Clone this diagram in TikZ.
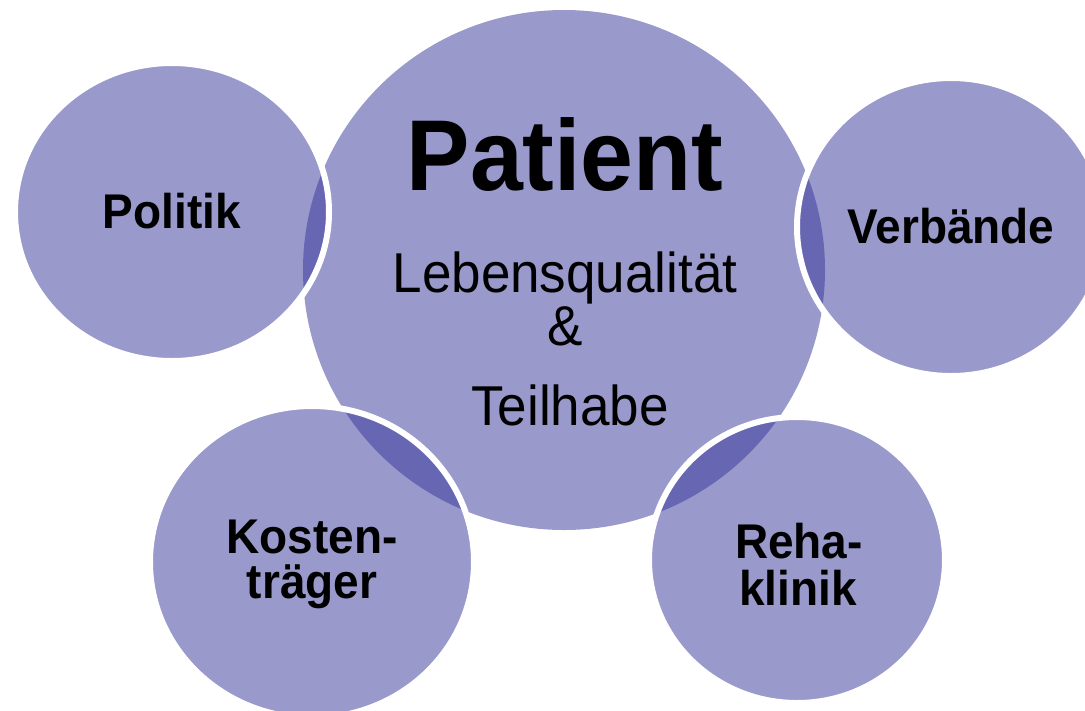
\documentclass[tikz,border=0pt]{standalone}
\usepackage{fontspec}
\usepackage{graphicx}
\setmainfont{Liberation Sans}
\definecolor{lav}{HTML}{9999CC}
\definecolor{lavdark}{HTML}{6666B3}
\newcommand{\bigbubble}{(564,270) ellipse [x radius=261pt, y radius=260pt]}
\newcommand{\satellite}[4]{%
  \fill[lav] (#1,#2) ellipse [x radius=#3pt, y radius=#4pt];
  \begin{scope}
    \clip (#1,#2) ellipse [x radius=#3pt, y radius=#4pt];
    \fill[lavdark] \bigbubble;
  \end{scope}
  \draw[rim] (#1,#2) ellipse [x radius=#3pt, y radius=#4pt];
}
\newcommand{\tall}[1]{\scalebox{1}[1.06]{#1}}
\begin{document}
\begin{tikzpicture}[x=1pt,y=-1pt,
  rim/.style={draw=white,line width=6pt},
  lbl/.style={anchor=base,inner sep=0pt,font=\bfseries\fontsize{46}{46}\selectfont},
  sub/.style={anchor=base,inner sep=0pt,font=\fontsize{53}{53}\selectfont}]
\useasboundingbox (0,0) rectangle (1085,710);
\begin{scope}
  \clip (0,0) rectangle (1085,710);
  \fill[lav] \bigbubble;
  \satellite{172}{212}{157}{149}
  \satellite{951}{227}{154}{149}
  \satellite{312}{562}{162}{156}
  \satellite{797}{560}{148}{143}
\end{scope}
\node[anchor=base,inner sep=0pt,font=\bfseries\fontsize{95}{95}\selectfont] (patient) at (565,190) {\tall{Patient}};
\node[sub] (leben) at (565,292) {\tall{Lebensqualität}};
\node[sub] (und) at (565,345) {\tall{\&}};
\node[sub] (teil) at (570,425) {\tall{Teilhabe}};
\node[lbl] (politik) at (172,228) {\tall{Politik}};
\node[lbl] (verb) at (951,243) {\tall{Verbände}};
\node[lbl] (kosten1) at (312,553) {\tall{Kosten-}};
\node[lbl] (kosten2) at (312,598) {\tall{träger}};
\node[lbl] (reha1) at (799,558) {\tall{Reha-}};
\node[lbl] (reha2) at (798,605) {\tall{klinik}};
\end{tikzpicture}
\end{document}
